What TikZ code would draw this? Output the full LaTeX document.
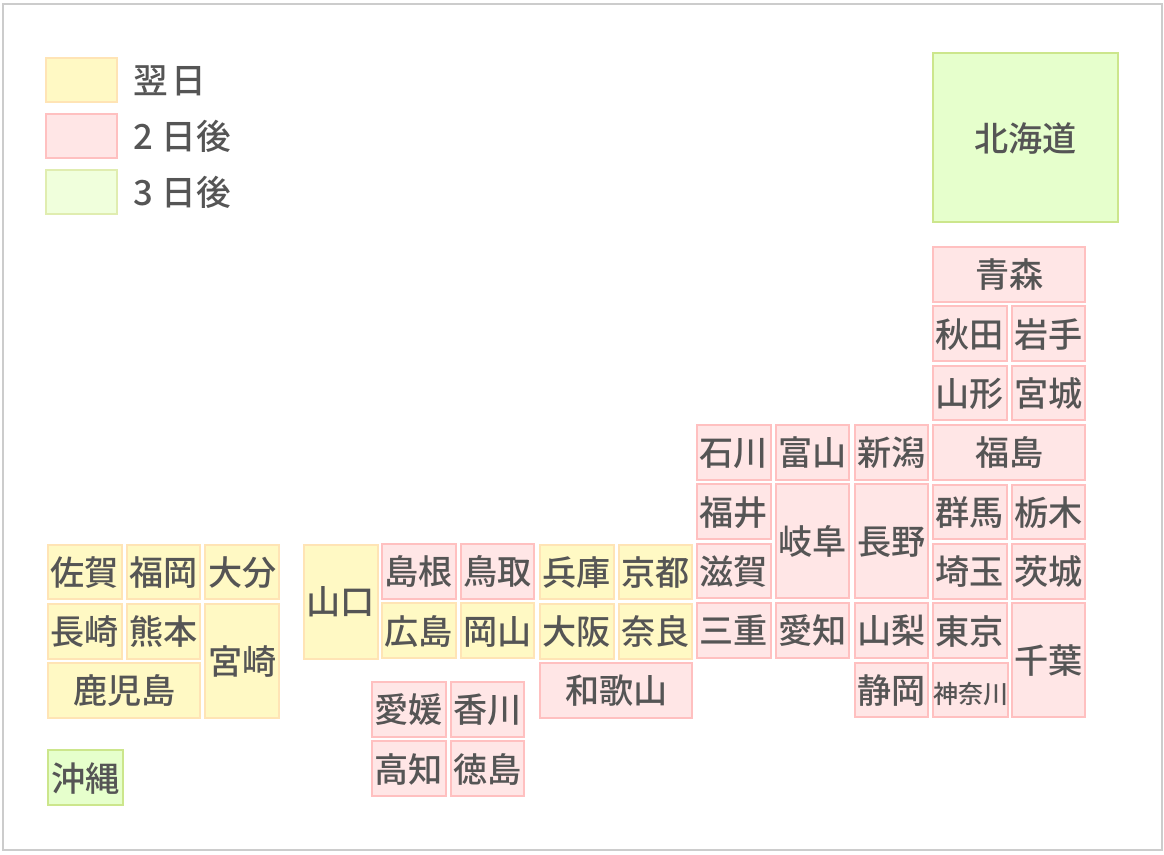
\documentclass[tikz,border=0pt]{standalone}
\usepackage{fontspec}
\setmainfont{Noto Sans CJK JP Medium}
\usepackage{tikz}
\usetikzlibrary{positioning}
\definecolor{inktext}{HTML}{555555}
\definecolor{yellowfill}{HTML}{FFF9C4}
\definecolor{yellowline}{HTML}{FFE4B5}
\definecolor{pinkfill}{HTML}{FFE6E6}
\definecolor{pinkline}{HTML}{FFC0C0}
\definecolor{greenfill}{HTML}{E6FFCC}
\definecolor{greenline}{HTML}{CCE68C}
\definecolor{keyfill}{HTML}{F0FFDC}
\definecolor{keyline}{HTML}{E0EDB0}
\tikzstyle{cell} = [rectangle, line width=1.5pt, outer sep=0pt, inner sep=0pt, minimum width=55.25pt, minimum height=41pt, text centered, text height=22pt, text depth=2pt, text=inktext, font=\fontsize{25.6pt}{28pt}\selectfont]
\tikzstyle{wide} = [minimum width=114.3pt]
\tikzstyle{tall} = [minimum height=85.55pt]
\tikzstyle{next1} = [cell, draw=yellowline, fill=yellowfill]
\tikzstyle{next2} = [cell, draw=pinkline, fill=pinkfill]
\tikzstyle{next3} = [cell, draw=greenline, fill=greenfill]
\tikzstyle{under} = [below=of #1.south west, anchor=north west]
\tikzstyle{beside} = [right=of #1.north east, anchor=north west]
\tikzstyle{keybox} = [rectangle, line width=1.5pt, outer sep=0pt, minimum width=53.25pt, minimum height=33pt]
\tikzstyle{keytext} = [text=inktext, inner sep=0pt, text height=22pt, text depth=2pt, font=\fontsize{26pt}{28pt}\selectfont]

\begin{document}
\begin{tikzpicture}[x=0.75pt, y=-0.75pt, node distance=3.55pt and 3.81pt]

\useasboundingbox (0,0) rectangle (1164,854);
\draw [draw=black!20, line width=1.5pt, fill=white] (2.5,3.5) rectangle (1161.5,849.5);

% legend
\node (key1) [keybox, draw=yellowline, fill=yellowfill, anchor=north west] at (46,58) {};
\node (key2) [keybox, draw=pinkline, fill=pinkfill, below=9pt of key1] {};
\node (key3) [keybox, draw=keyline, fill=keyfill, below=9pt of key2] {};
\node (text1) [keytext, right=12pt of key1] {翌\hspace{3pt}日};
\node (text2) [keytext, right=12pt of key2] {2\hspace{6.5pt}日後};
\node (text3) [keytext, right=12pt of key3] {3\hspace{6.5pt}日後};

% hokkaido and tohoku
\node (hokkaido) [next3, minimum width=138.75pt, minimum height=127pt, anchor=north west] at (933,53) {北海道};
\node (aomori) [next2, wide, anchor=north west] at (933,247) {青森};
\node (akita) [next2, under=aomori] {秋田};
\node (iwate) [next2, beside=akita] {岩手};
\node (yamagata) [next2, under=akita] {山形};
\node (miyagi) [next2, beside=yamagata] {宮城};
\node (fukushima) [next2, wide, under=yamagata] {福島};

% kanto
\node (gunma) [next2, under=fukushima] {群馬};
\node (tochigi) [next2, beside=gunma] {栃木};
\node (saitama) [next2, under=gunma] {埼玉};
\node (ibaraki) [next2, beside=saitama] {茨城};
\node (tokyo) [next2, under=saitama] {東京};
\node (chiba) [next2, tall, beside=tokyo] {千葉};
\node (kanagawa) [next2, under=tokyo, font=\fontsize{18.8pt}{20pt}\selectfont] {神奈川};

% chubu
\node (ishikawa) [next2, anchor=north west] at (697,425) {石川};
\node (toyama) [next2, beside=ishikawa] {富山};
\node (niigata) [next2, beside=toyama] {新潟};
\node (fukui) [next2, under=ishikawa] {福井};
\node (gifu) [next2, tall, under=toyama] {岐阜};
\node (nagano) [next2, tall, under=niigata] {長野};
\node (shiga) [next2, under=fukui] {滋賀};
\node (mie) [next2, under=shiga] {三重};
\node (aichi) [next2, beside=mie] {愛知};
\node (yamanashi) [next2, beside=aichi] {山梨};
\node (shizuoka) [next2, under=yamanashi] {静岡};

% kinki
\node (hyogo) [next1, anchor=north west] at (540,544.5) {兵庫};
\node (kyoto) [next1, beside=hyogo] {京都};
\node (osaka) [next1, under=hyogo] {大阪};
\node (nara) [next1, beside=osaka] {奈良};
\node (wakayama) [next2, wide, under=osaka] {和歌山};

% chugoku
\node (yamaguchi) [next1, tall, anchor=north west] at (304,544.5) {山口};
\node (shimane) [next2, anchor=north west] at (382,544) {島根};
\node (tottori) [next2, beside=shimane] {鳥取};
\node (hiroshima) [next1, under=shimane] {広島};
\node (okayama) [next1, beside=hiroshima] {岡山};

% shikoku
\node (ehime) [next2, anchor=north west] at (372,682) {愛媛};
\node (kagawa) [next2, beside=ehime] {香川};
\node (kochi) [next2, under=ehime] {高知};
\node (tokushima) [next2, beside=kochi] {徳島};

% kyushu
\node (saga) [next1, anchor=north west] at (48,544.5) {佐賀};
\node (fukuoka) [next1, beside=saga] {福岡};
\node (oita) [next1, beside=fukuoka] {大分};
\node (nagasaki) [next1, under=saga] {長崎};
\node (kumamoto) [next1, beside=nagasaki] {熊本};
\node (miyazaki) [next1, tall, beside=kumamoto] {宮崎};
\node (kagoshima) [next1, wide, under=nagasaki] {鹿児島};
\node (okinawa) [next3, minimum width=56.25pt, minimum height=41.5pt, anchor=north west] at (48,750) {沖縄};

\end{tikzpicture}
\end{document}
